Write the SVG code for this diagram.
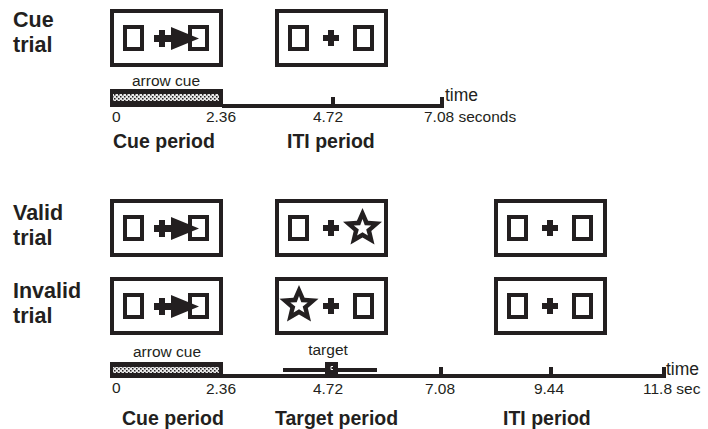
<svg xmlns="http://www.w3.org/2000/svg" width="708" height="429" viewBox="0 0 708 429">
<style>
.lbl{font-family:"Liberation Sans",Arial,sans-serif;font-weight:bold;font-size:21.5px;fill:#231f20}
.per{font-family:"Liberation Sans",Arial,sans-serif;font-weight:bold;font-size:19.5px;fill:#231f20}
.num{font-family:"Liberation Sans",Arial,sans-serif;font-size:15.5px;fill:#231f20}
.tm{font-family:"Liberation Sans",Arial,sans-serif;font-size:17.5px;fill:#231f20}
.frame{fill:#fff;stroke:#231f20;stroke-width:4}
.sq{fill:#fff;stroke:#231f20;stroke-width:4}
.blk{fill:#231f20}
</style>
<defs>
<pattern id="hatch" width="4" height="4" patternUnits="userSpaceOnUse">
<rect width="4" height="4" fill="#e8e8e8"/>
<rect x="0" y="0" width="1.5" height="1.5" fill="#231f20"/>
<rect x="2" y="2" width="1.5" height="1.5" fill="#231f20"/>
</pattern>
<g id="frame"><rect class="frame" x="2" y="2" width="109" height="54"/></g>
<g id="lsq"><rect class="sq" x="15" y="18" width="17" height="22"/></g>
<g id="rsq"><rect class="sq" x="80" y="18" width="17" height="22"/></g>
<g id="plus"><path class="blk" d="M48 26h5v-5h6v5h5v6h-5v5h-6v-5h-5z"/></g>
<g id="arrow"><path class="blk" d="M44 26h5v-5h6v5h6v-8l28 11.5l-28 11.5v-8h-6v5h-6v-5h-5z"/></g>
<g id="star">
<polygon class="blk" points="0,-20 5.6,-7.3 19.5,-6.2 8.8,3 12,16.5 0,9.5 -12,16.5 -8.8,3 -19.5,-6.2 -5.6,-7.3"/>
<polygon fill="#fff" points="0,-9 2.3,-2.8 8.7,-2.6 3.7,1.4 5.4,7.6 0,4.2 -5.4,7.6 -3.7,1.4 -8.7,-2.6 -2.3,-2.8"/>
</g>
</defs>

<g id="row-labels">
<text class="lbl" x="13" y="27">Cue</text>
<text class="lbl" x="13" y="52">trial</text>
<text class="lbl" x="13" y="220">Valid</text>
<text class="lbl" x="13" y="245">trial</text>
<text class="lbl" x="13" y="298">Invalid</text>
<text class="lbl" x="13" y="323">trial</text>
</g>

<g id="cue-trial-cue" transform="translate(110,9)">
<use href="#frame"/><use href="#lsq"/><use href="#rsq"/><use href="#arrow"/>
</g>
<g id="cue-trial-iti" transform="translate(275,9)">
<use href="#frame"/><use href="#lsq"/><use href="#rsq"/><use href="#plus"/>
</g>

<g id="valid-cue" transform="translate(110,199)">
<use href="#frame"/><use href="#lsq"/><use href="#rsq"/><use href="#arrow"/>
</g>
<g id="valid-target" transform="translate(275,199)">
<use href="#frame"/><use href="#lsq"/><use href="#plus"/>
<use href="#star" transform="translate(87.5,29)"/>
</g>
<g id="valid-iti" transform="translate(494,199)">
<use href="#frame"/><use href="#lsq"/><use href="#rsq"/><use href="#plus"/>
</g>

<g id="invalid-cue" transform="translate(110,277)">
<use href="#frame"/><use href="#lsq"/><use href="#rsq"/><use href="#arrow"/>
</g>
<g id="invalid-target" transform="translate(275,277)">
<use href="#frame"/><use href="#rsq"/><use href="#plus"/>
<use href="#star" transform="translate(24,28)"/>
</g>
<g id="invalid-iti" transform="translate(494,277)">
<use href="#frame"/><use href="#lsq"/><use href="#rsq"/><use href="#plus"/>
</g>

<g id="timeline-1">
<text class="num" x="166" y="86" text-anchor="middle">arrow cue</text>
<rect class="blk" x="110" y="89" width="113" height="18"/>
<rect x="113" y="94" width="106" height="7" fill="url(#hatch)"/>
<rect class="blk" x="222" y="104" width="222" height="4"/>
<rect class="blk" x="331" y="97" width="4" height="10"/>
<rect class="blk" x="440" y="97" width="4" height="10"/>
<text class="tm" x="445" y="101">time</text>
<text class="num" x="112" y="122">0</text>
<text class="num" x="221" y="122" text-anchor="middle">2.36</text>
<text class="num" x="328" y="122" text-anchor="middle">4.72</text>
<text class="num" x="424" y="122">7.08 seconds</text>
<text class="per" x="113" y="148">Cue period</text>
<text class="per" x="287" y="148">ITI period</text>
</g>

<g id="timeline-2">
<text class="num" x="167" y="357" text-anchor="middle">arrow cue</text>
<text class="num" x="328" y="355" text-anchor="middle">target</text>
<rect class="blk" x="110" y="362" width="113" height="16"/>
<rect x="113" y="367" width="106" height="6" fill="url(#hatch)"/>
<rect class="blk" x="222" y="374" width="444" height="4"/>
<rect class="blk" x="439" y="367" width="4" height="10"/>
<rect class="blk" x="549" y="367" width="4" height="10"/>
<rect class="blk" x="662" y="367" width="4" height="10"/>
<rect class="blk" x="283" y="368" width="94" height="4"/>
<rect class="blk" x="325" y="362" width="13" height="12"/>
<path d="M333 366.5h-2v3h2" fill="none" stroke="#fff" stroke-width="1"/>
<text class="tm" x="666" y="375">time</text>
<text class="num" x="112" y="393">0</text>
<text class="num" x="221" y="394" text-anchor="middle">2.36</text>
<text class="num" x="328" y="394" text-anchor="middle">4.72</text>
<text class="num" x="440" y="394" text-anchor="middle">7.08</text>
<text class="num" x="549" y="394" text-anchor="middle">9.44</text>
<text class="num" x="643" y="394">11.8 sec</text>
<text class="per" x="122" y="425">Cue period</text>
<text class="per" x="275" y="425">Target period</text>
<text class="per" x="503" y="425">ITI period</text>
</g>
</svg>
